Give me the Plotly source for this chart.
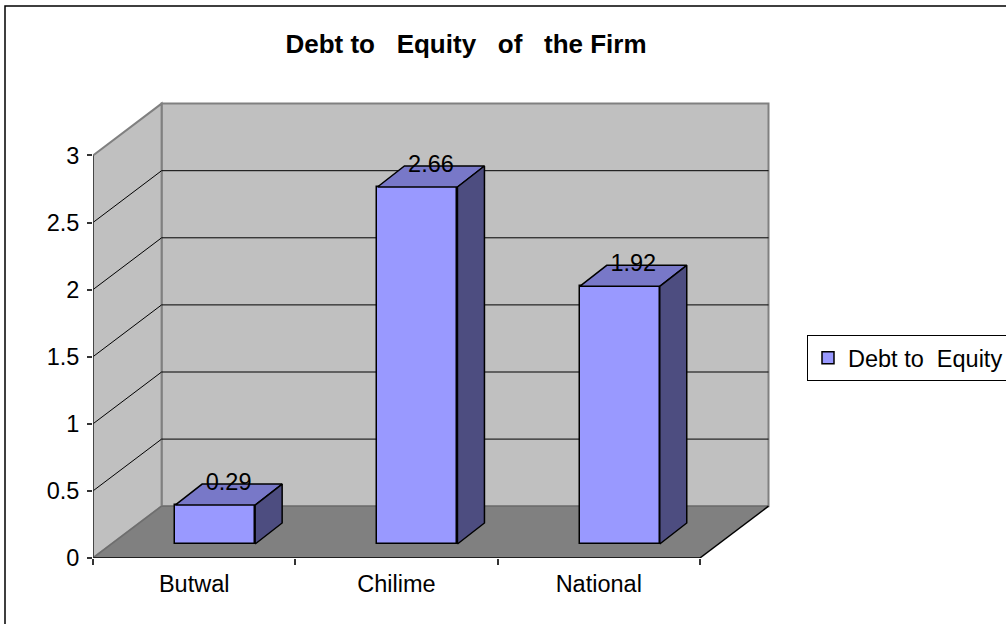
import plotly.graph_objects as go

# ---- data ----
categories = ["Butwal", "Chilime", "National"]
debt_to_equity = [0.29, 2.66, 1.92]
y_tick_values = [0, 0.5, 1, 1.5, 2, 2.5, 3]
y_tick_labels = ["0", "0.5", "1", "1.5", "2", "2.5", "3"]
series_name = "Debt to\u00a0\u00a0Equity"
chart_title = "Debt to\u00a0\u00a0\u00a0Equity\u00a0\u00a0\u00a0of\u00a0\u00a0\u00a0the Firm"

# ---- layout geometry (pixels) ----
FIG_W, FIG_H = 1006, 624
LEFT, RIGHT, TOP, BOTTOM = 93, 774, 98, 558
PX_PER_CAT = 202.3          # horizontal pixels per category slot
PX_PER_UNIT = 134.2         # vertical pixels per value unit
FONT = "Liberation Sans, Arial, sans-serif"
LABEL_SIZE = 23.5

# oblique depth of the floor / walls, in data units
DEPTH_X = 68.6 / PX_PER_CAT
DEPTH_Y = 51.8 / PX_PER_UNIT
# bar placement inside its slot and the bar's own depth
BAR_LEFT = -19 / PX_PER_CAT
BAR_W = 80 / PX_PER_CAT
BAR_BASE = 14 / PX_PER_UNIT
BAR_DX = 27 / PX_PER_CAT
BAR_DY = 21 / PX_PER_UNIT

n = len(categories)
x_lo, x_hi = -0.5, n - 0.5
y_max = y_tick_values[-1]
x_range = [x_lo, x_lo + (RIGHT - LEFT) / PX_PER_CAT]
y_range = [0, (BOTTOM - TOP) / PX_PER_UNIT]

FRONT = "#9999FF"
TOP_C = "#7878C8"
SIDE = "#4D4D80"
WALL = "#C0C0C0"
FLOOR = "#808080"
EDGE = "#808080"

fig = go.Figure()

# front faces of the columns
fig.add_trace(go.Bar(
    x=[i + BAR_LEFT + BAR_W / 2 for i in range(n)],
    y=debt_to_equity,
    base=BAR_BASE,
    width=BAR_W,
    name=series_name,
    marker=dict(color=FRONT, line=dict(color="black", width=1.5)),
    showlegend=True,
    hoverinfo="skip",
))

# top and side faces of each column
for i, v in enumerate(debt_to_equity):
    x0 = i + BAR_LEFT
    x1 = x0 + BAR_W
    top = BAR_BASE + v
    fig.add_trace(go.Scatter(
        x=[x0, x1, x1 + BAR_DX, x0 + BAR_DX, x0],
        y=[top, top, top + BAR_DY, top + BAR_DY, top],
        fill="toself", fillcolor=TOP_C, mode="lines",
        line=dict(color="black", width=1.5),
        showlegend=False, hoverinfo="skip",
    ))
    fig.add_trace(go.Scatter(
        x=[x1, x1 + BAR_DX, x1 + BAR_DX, x1, x1],
        y=[BAR_BASE, BAR_BASE + BAR_DY, top + BAR_DY, top, BAR_BASE],
        fill="toself", fillcolor=SIDE, mode="lines",
        line=dict(color="black", width=1.5),
        showlegend=False, hoverinfo="skip",
    ))

# value labels over each column
fig.add_trace(go.Scatter(
    x=[i + BAR_LEFT + BAR_W / 2 + BAR_DX / 2 for i in range(n)],
    y=[BAR_BASE + v + BAR_DY for v in debt_to_equity],
    text=[f"{v:.2f}" for v in debt_to_equity],
    mode="text", textposition="middle center",
    textfont=dict(family=FONT, size=LABEL_SIZE, color="black"),
    showlegend=False, hoverinfo="skip", cliponaxis=False,
))

shapes = []


def poly(pts, **kw):
    path = "M " + " L ".join(f"{x},{y}" for x, y in pts) + " Z"
    return dict(type="path", path=path, xref="x", yref="y", layer="below", **kw)


def seg(x0, y0, x1, y1, color, width):
    return dict(type="line", x0=x0, y0=y0, x1=x1, y1=y1, xref="x", yref="y",
                layer="below", line=dict(color=color, width=width))


# back wall
shapes.append(poly([(x_lo + DEPTH_X, DEPTH_Y), (x_hi + DEPTH_X, DEPTH_Y),
                    (x_hi + DEPTH_X, y_max + DEPTH_Y), (x_lo + DEPTH_X, y_max + DEPTH_Y)],
                   fillcolor=WALL, line=dict(color=EDGE, width=2)))
# side wall
shapes.append(poly([(x_lo, 0), (x_lo + DEPTH_X, DEPTH_Y),
                    (x_lo + DEPTH_X, y_max + DEPTH_Y), (x_lo, y_max)],
                   fillcolor=WALL, line=dict(color=EDGE, width=2)))
# floor
shapes.append(poly([(x_lo, 0), (x_hi, 0), (x_hi + DEPTH_X, DEPTH_Y), (x_lo + DEPTH_X, DEPTH_Y)],
                   fillcolor=FLOOR, line=dict(width=0)))
shapes.append(seg(x_lo + DEPTH_X, DEPTH_Y, x_hi + DEPTH_X, DEPTH_Y, "#6E6E6E", 1.5))
shapes.append(seg(x_lo, 0, x_lo + DEPTH_X, DEPTH_Y, "#6E6E6E", 1.5))

# gridlines on back and side walls
for t in y_tick_values[1:-1]:
    shapes.append(seg(x_lo + DEPTH_X, t + DEPTH_Y, x_hi + DEPTH_X, t + DEPTH_Y, "black", 1))
    shapes.append(seg(x_lo, t, x_lo + DEPTH_X, t + DEPTH_Y, "black", 1))

# front floor edges and value axis line
shapes.append(seg(x_lo, 0, x_hi, 0, "black", 1.5))
shapes.append(seg(x_hi, 0, x_hi + DEPTH_X, DEPTH_Y, "black", 1.5))
shapes.append(seg(x_lo, 0, x_lo, y_max, "#333333", 1.5))

# chart border
pw, ph = RIGHT - LEFT, BOTTOM - TOP
shapes.append(dict(type="rect", xref="paper", yref="paper",
                   x0=(5 - LEFT) / pw, x1=(1012 - LEFT) / pw,
                   y0=(BOTTOM - 630) / ph, y1=(BOTTOM - 6) / ph,
                   line=dict(color="black", width=1.5), layer="below"))

fig.update_layout(
    width=FIG_W, height=FIG_H,
    margin=dict(l=LEFT, r=FIG_W - RIGHT, t=TOP, b=FIG_H - BOTTOM, pad=0, autoexpand=False),
    paper_bgcolor="white", plot_bgcolor="rgba(0,0,0,0)",
    shapes=shapes,
    font=dict(family=FONT, size=LABEL_SIZE, color="black"),
    title=dict(text=chart_title, x=466 / FIG_W, y=1 - 44 / FIG_H,
               xanchor="center", yanchor="middle", xref="container", yref="container",
               font=dict(family=FONT, size=26, color="black", weight="bold")),
    xaxis=dict(range=x_range, tickmode="array", tickvals=list(range(n)), ticktext=categories,
               ticks="", showgrid=False, zeroline=False, showline=False,
               ticklabelstandoff=9, tickfont=dict(family=FONT, size=LABEL_SIZE, color="black"),
               minor=dict(tickmode="linear", tick0=x_lo, dtick=1, ticks="outside",
                          ticklen=6, tickcolor="#333333", tickwidth=1.5, showgrid=False),
               fixedrange=True),
    yaxis=dict(range=y_range, tickmode="array", tickvals=y_tick_values, ticktext=y_tick_labels,
               ticks="outside", ticklen=5, tickcolor="#333333", tickwidth=1.5,
               showgrid=False, zeroline=False, showline=False, ticklabelstandoff=3,
               tickfont=dict(family=FONT, size=LABEL_SIZE, color="black"), fixedrange=True),
    legend=dict(xref="container", yref="container", x=807 / FIG_W, y=1 - 335 / FIG_H,
                xanchor="left", yanchor="top",
                bordercolor="black", borderwidth=1, bgcolor="white",
                font=dict(family=FONT, size=LABEL_SIZE, color="black")),
    bargap=0,
)

fig.write_html("out.html")
